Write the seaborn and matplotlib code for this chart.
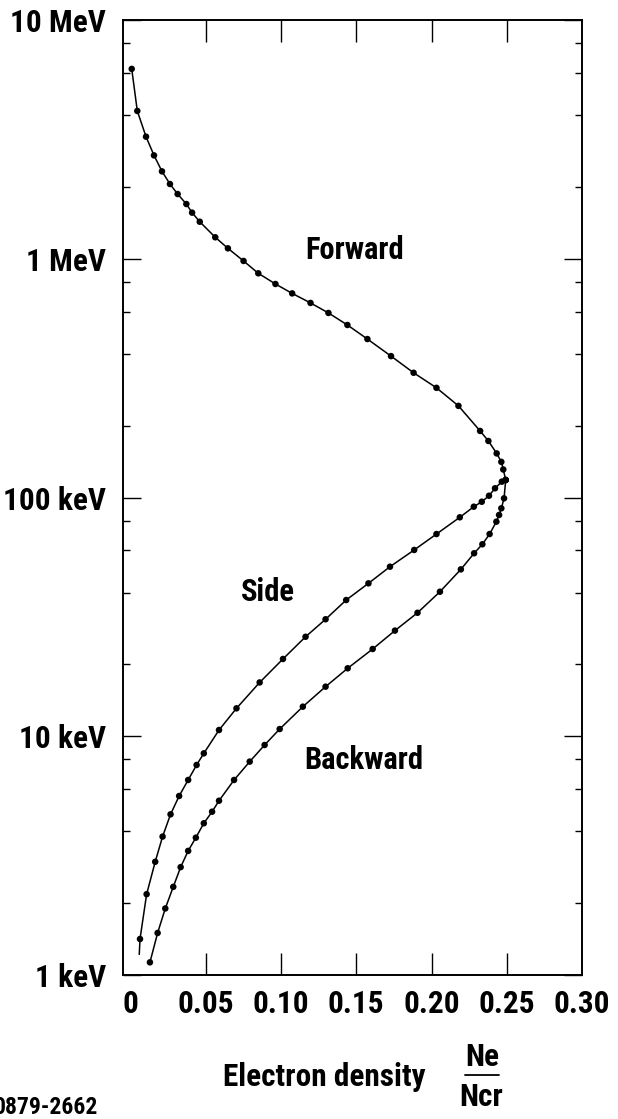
import numpy as np
import pandas as pd
import matplotlib
matplotlib.use("Agg")
import matplotlib.pyplot as plt
from matplotlib import font_manager
from matplotlib.lines import Line2D
from matplotlib.ticker import FixedLocator, NullFormatter, NullLocator
import seaborn as sns

# Energy of emitted electrons (keV) versus electron density Ne/Ncr
forward_x = [0.0008, 0.0045, 0.0103, 0.0156, 0.0209, 0.0262, 0.0313, 0.0371, 0.0409,
             0.0460, 0.0563, 0.0647, 0.0751, 0.0849, 0.0963, 0.1074, 0.1196, 0.1315,
             0.1441, 0.1574, 0.1731, 0.1881, 0.2033, 0.2179, 0.2323, 0.2378, 0.2433,
             0.2464, 0.2477, 0.2493]
forward_kev = [6240, 4160, 3245, 2710, 2323, 2056, 1867, 1695, 1560,
               1429, 1230, 1106, 979, 869, 784, 716, 653, 593,
               528, 461, 391, 333, 288, 242, 190, 172.5, 153,
               141, 131, 118.4]

side_x = [0.2493, 0.2467, 0.2422, 0.2382, 0.2334, 0.2281, 0.2188, 0.2033, 0.1885,
          0.1724, 0.1581, 0.1433, 0.1296, 0.1163, 0.1013, 0.0858, 0.0704, 0.0588,
          0.0487, 0.0439, 0.0383, 0.0323, 0.0266, 0.0213, 0.0164, 0.0107, 0.0063]
side_kev = [118.4, 116.5, 109.3, 101.7, 96.0, 91.5, 82.6, 70.3, 60.3,
            51.3, 43.7, 37.2, 30.9, 26.1, 21.07, 16.8, 13.09, 10.62,
            8.48, 7.58, 6.56, 5.62, 4.71, 3.80, 2.98, 2.18, 1.415]
# short unmarked tail below the last side point
side_tail_x = [0.0063, 0.0058]
side_tail_kev = [1.415, 1.22]

backward_x = [0.2493, 0.2482, 0.2464, 0.2449, 0.2431, 0.2386, 0.2338, 0.2283, 0.2195,
              0.2056, 0.1907, 0.1757, 0.1609, 0.1443, 0.1296, 0.1145, 0.0991, 0.0891,
              0.0792, 0.0688, 0.0588, 0.0542, 0.0487, 0.0434, 0.0383, 0.0333, 0.0284,
              0.0231, 0.0180, 0.0129]
backward_kev = [118.4, 99.2, 90.1, 84.5, 79.2, 70.3, 63.7, 58.4, 50.0,
                40.3, 32.9, 27.7, 23.2, 19.26, 16.13, 13.30, 10.72, 9.19,
                7.83, 6.56, 5.37, 4.83, 4.32, 3.76, 3.31, 2.83, 2.34,
                1.90, 1.50, 1.13]

xtick_values = [0, 0.05, 0.10, 0.15, 0.20, 0.25, 0.30]
xtick_labels = ["0", "0.05", "0.10", "0.15", "0.20", "0.25", "0.30"]
ytick_values = [1, 10, 100, 1000, 10000]
ytick_labels = ["1 keV", "10 keV", "100 keV", "1 MeV", "10 MeV"]
ytick_minor = [m * d for d in (1, 10, 100, 1000) for m in (2, 4, 6, 8)]

curve_names = ["Forward", "Side", "Backward"]

sns.set_theme(style="ticks")
plt.rcParams["font.family"] = ["DejaVu Sans"]
plt.rcParams["text.color"] = "black"
plt.rcParams["xtick.color"] = "black"
plt.rcParams["ytick.color"] = "black"


def pick_font():
    """Prefer a narrow bold sans face; fall back to a regular bold one."""
    files = [f.fname for f in font_manager.fontManager.ttflist]
    wanted = [
        ("LiberationSansNarrow-Bold", None),
        ("RobotoCondensed-Bold", None),
        ("Roboto_Condensed-Bold", None),
        ("OpenSans_Condensed-Bold", None),
        ("OpenSansCondensed-Bold", None),
        ("DejaVuSansCondensed-Bold", None),
    ]
    for key, _ in wanted:
        for fn in files:
            if key.lower() in fn.replace(" ", "").lower():
                return font_manager.FontProperties(fname=fn), True
    for fn in files:
        low = fn.lower()
        if ("condensed" in low or "narrow" in low) and "bold" in low and "italic" not in low \
                and "oblique" not in low:
            return font_manager.FontProperties(fname=fn), True
    return font_manager.FontProperties(family="Roboto", weight="bold"), False


base_fp, narrow = pick_font()
scale = 1.0 if narrow else 0.86


def fp(size):
    p = base_fp.copy()
    p.set_size(size * scale)
    return p


df = pd.concat([
    pd.DataFrame({"density": forward_x, "energy": forward_kev, "curve": "Forward"}),
    pd.DataFrame({"density": side_x, "energy": side_kev, "curve": "Side"}),
    pd.DataFrame({"density": backward_x, "energy": backward_kev, "curve": "Backward"}),
], ignore_index=True)
tail = pd.DataFrame({"density": side_tail_x, "energy": side_tail_kev, "curve": "Side"})

W, H = 618, 1119
fig = plt.figure(figsize=(W / 100, H / 100), dpi=100)
ax = fig.add_axes([123 / W, 1 - 975 / H, (582 - 123) / W, (975 - 20) / H])

black = {name: "black" for name in curve_names}
sns.lineplot(data=df, x="density", y="energy", hue="curve", palette=black,
             units="curve", estimator=None, sort=False, lw=1.1, legend=False, ax=ax)
sns.lineplot(data=tail, x="density", y="energy", color="black", sort=False,
             estimator=None, lw=1.1, legend=False, ax=ax)
sns.scatterplot(data=df, x="density", y="energy", hue="curve", palette=black,
                s=22, linewidth=0, legend=False, ax=ax, zorder=3)

ax.set_yscale("log")
ax.set_xlim(-0.005, 0.30)
ax.set_ylim(1, 10000)

ax.xaxis.set_major_locator(FixedLocator(xtick_values))
ax.set_xticklabels(xtick_labels, fontproperties=fp(22.5))
ax.xaxis.set_minor_locator(NullLocator())
ax.yaxis.set_major_locator(FixedLocator(ytick_values))
ax.set_yticklabels(ytick_labels, fontproperties=fp(22.5))
ax.yaxis.set_minor_locator(FixedLocator(ytick_minor))
ax.yaxis.set_minor_formatter(NullFormatter())

ax.tick_params(which="both", direction="in", top=True, right=True,
               colors="black", width=1.0)
ax.tick_params(axis="x", which="major", length=16, pad=10)
ax.tick_params(axis="y", which="major", length=13, pad=12)
ax.tick_params(axis="y", which="minor", length=5)
for t in ax.xaxis.get_major_ticks():
    if t.get_loc() in (0, 0.30):
        t.tick1line.set_visible(False)
        t.tick2line.set_visible(False)

for sp in ax.spines.values():
    sp.set_visible(True)
    sp.set_color("black")
    sp.set_linewidth(1.4)

ax.set_xlabel("")
ax.set_ylabel("")
ax.set_facecolor("white")

ax.text(0.1488, 1088, "Forward", fontproperties=fp(22), ha="center", va="center")
ax.text(0.0911, 40.2, "Side", fontproperties=fp(22), ha="center", va="center")
ax.text(0.1547, 7.95, "Backward", fontproperties=fp(22), ha="center", va="center")


def fx(px):
    return px / W


def fy(py):
    return 1 - py / H


fig.text(fx(324), fy(1077), "Electron density", fontproperties=fp(22.5),
         ha="center", va="center")
fig.text(fx(482), fy(1057), "Ne", fontproperties=fp(22.5), ha="center", va="center")
fig.add_artist(Line2D([fx(465), fx(499)], [fy(1075), fy(1075)], color="black", lw=1.3,
                      transform=fig.transFigure))
fig.text(fx(481), fy(1097), "Ncr", fontproperties=fp(22.5), ha="center", va="center")
fig.text(fx(-6), fy(1108), "0879-2662", fontproperties=fp(17), ha="left", va="center")

fig.savefig("out.png", dpi=100, facecolor="white")
